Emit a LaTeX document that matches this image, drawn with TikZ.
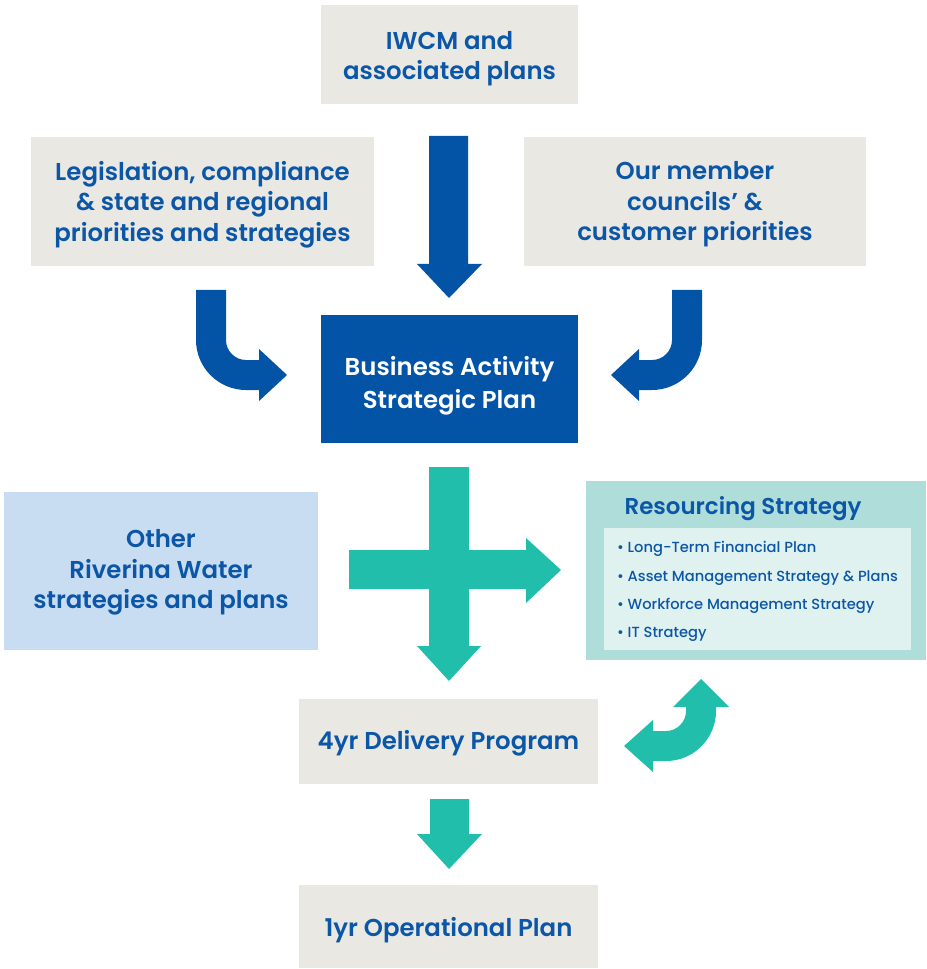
\documentclass[tikz,border=0pt]{standalone}
\usepackage{fontspec}
\setmainfont{Poppins}[BoldFont={Poppins SemiBold}]
\newfontfamily\listfont{Poppins Medium}
\definecolor{rwblue}{HTML}{0354A6}
\definecolor{rwtext}{HTML}{0B56A7}
\definecolor{rwteal}{HTML}{22BEAC}
\definecolor{rwgrey}{HTML}{E9E8E3}
\definecolor{rwsky}{HTML}{C8DDF2}
\definecolor{rwmint}{HTML}{AFDEDA}
\definecolor{rwpale}{HTML}{E0F2F0}
\newcommand\pix{0.75pt}
\tikzset{
greybox/.style={rectangle, fill=rwgrey, draw=none, inner sep=0pt},
bluebox/.style={greybox, fill=rwblue},
skybox/.style={greybox, fill=rwsky},
mintbox/.style={greybox, fill=rwmint},
palebox/.style={greybox, fill=rwpale},
boxtext/.style={inner sep=0pt, align=center, text=rwtext, font=\bfseries\fontsize{18.3}{22.9}\selectfont},
whitetext/.style={boxtext, text=white, font=\bfseries\fontsize{18.3}{24.8}\selectfont},
listtext/.style={inner sep=0pt, align=left, text=rwtext, font=\listfont\fontsize{11}{21.2}\selectfont},
bluearrow/.style={fill=rwblue},
tealarrow/.style={fill=rwteal},
}

\begin{document}
\begin{tikzpicture}[x=\pix, y=-\pix]
\useasboundingbox (0,0) rectangle (926,969);

% boxes
\node[greybox, minimum width=257*\pix, minimum height=99*\pix,
  label={[boxtext, yshift=-4*\pix]center:{IWCM and\\associated plans}}] at (449.5,54.5) (iwcm) {};
\node[greybox, minimum width=343*\pix, minimum height=129*\pix,
  label={[boxtext, yshift=-3*\pix]center:{Legislation, compliance\\\& state and regional\\priorities and strategies}}] at (202.5,201.5) (legis) {};
\node[greybox, minimum width=342*\pix, minimum height=129*\pix,
  label={[boxtext, yshift=-3*\pix]center:{Our member\\councils' \&\\customer priorities}}] at (695,201.5) (member) {};
\node[bluebox, minimum width=257*\pix, minimum height=128*\pix,
  label={[whitetext, yshift=-7*\pix]center:{Business Activity\\Strategic Plan}}] at (449.5,379) (basp) {};
\node[skybox, minimum width=314*\pix, minimum height=158*\pix,
  label={[boxtext, yshift=-1.5*\pix]center:{Other\\Riverina Water\\strategies and plans}}] at (161,571) (other) {};
\node[mintbox, minimum width=340*\pix, minimum height=179*\pix,
  label={[boxtext, font=\bfseries\fontsize{17.2}{20}\selectfont, xshift=-13*\pix, yshift=61.5*\pix]center:{Resourcing Strategy}}] at (756,570.5) (resourcing) {};
\node[palebox, minimum width=307*\pix, minimum height=122*\pix,
  label={[listtext, yshift=-2.5*\pix]center:{\textbullet{} Long-Term Financial Plan\\
   \textbullet{} Asset Management Strategy \& Plans\\
   \textbullet{} Workforce Management Strategy\\
   \textbullet{} IT Strategy}}] at (757.5,589) (reslist) {};
\node[greybox, minimum width=299*\pix, minimum height=85*\pix,
  label={[boxtext, yshift=-2*\pix]center:{4yr Delivery Program}}] at (448.5,741.5) (delivery) {};
\node[greybox, minimum width=299*\pix, minimum height=83*\pix,
  label={[boxtext, yshift=-4*\pix]center:{1yr Operational Plan}}] at (448.5,926.5) (operational) {};

% blue arrows into the strategic plan
\fill[bluearrow] (429,136) -- (468,136) -- (468,264) -- (482,264) -- (449,298) -- (417,264) -- (429,264) -- cycle;
\fill[bluearrow] (196,290) -- (226,290) -- (226,340) .. controls (226,351) and (235,360) .. (246,360)
  -- (259,360) -- (259,349) -- (287,375) -- (259,401) -- (259,390) -- (246,390)
  .. controls (218.4,390) and (196,367.6) .. (196,340) -- cycle;
\fill[bluearrow] (702,290) -- (672,290) -- (672,340) .. controls (672,351) and (663,360) .. (652,360)
  -- (639,360) -- (639,349) -- (611,375) -- (639,401) -- (639,390) -- (652,390)
  .. controls (679.6,390) and (702,367.6) .. (702,340) -- cycle;

% teal cross
\fill[tealarrow] (429,467) -- (469,467) -- (469,646) -- (481,646) -- (449,681) -- (417,646) -- (429,646) -- cycle;
\fill[tealarrow] (349,550) -- (526,550) -- (526,538) -- (561,570) -- (526,603) -- (526,589) -- (349,589) -- cycle;

% loop back from resourcing
\fill[tealarrow] (653,731) -- (666,731) .. controls (677,731) and (686,722) .. (686,711) -- (686,707)
  -- (673,707) -- (701,679) -- (729,707) -- (716,707) -- (716,711)
  .. controls (716,738.6) and (693.6,761) .. (666,761) -- (653,761) -- (653,772) -- (624,746) -- (653,720) -- cycle;

% delivery to operational
\fill[tealarrow] (430,799) -- (469,799) -- (469,834) -- (482,834) -- (449,869) -- (417,834) -- (430,834) -- cycle;
\end{tikzpicture}
\end{document}
